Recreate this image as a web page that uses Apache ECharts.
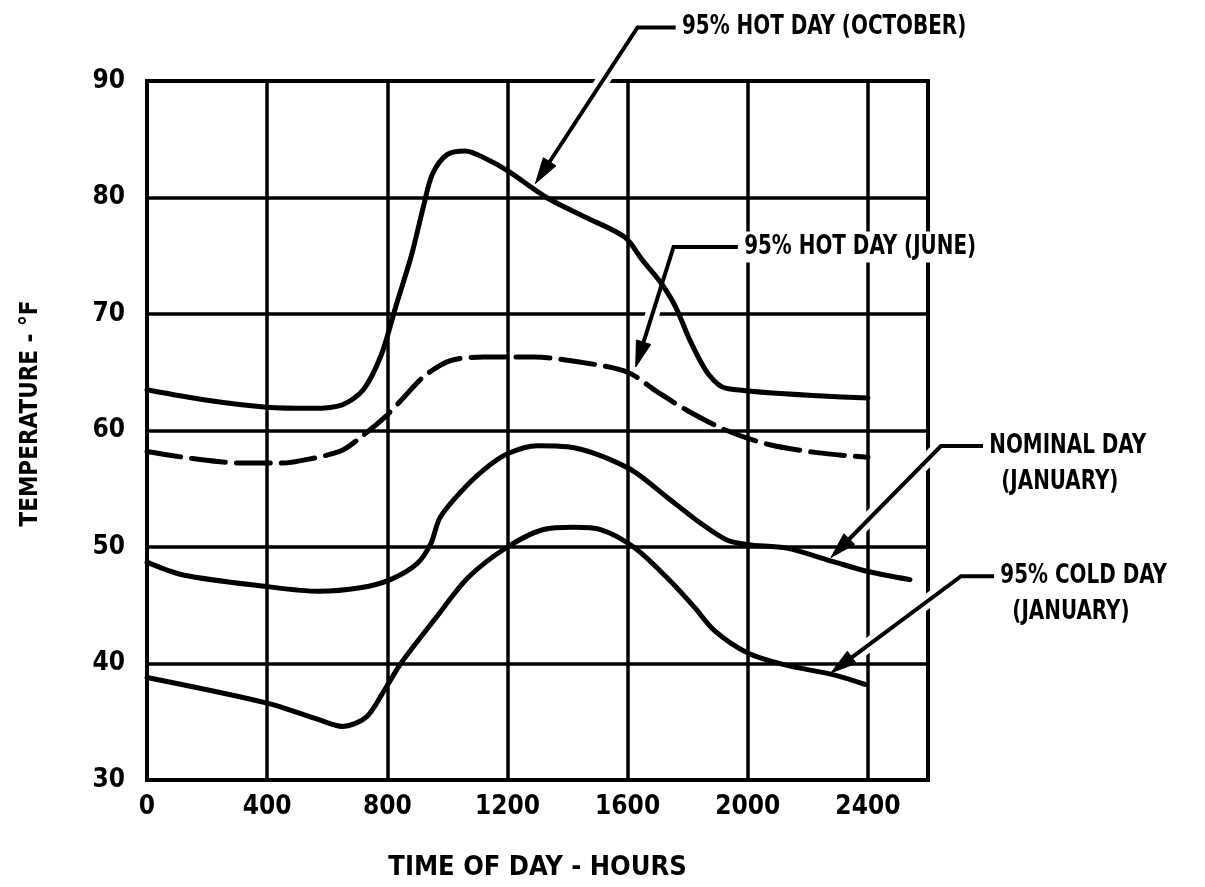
<!DOCTYPE html>
<html><head><meta charset="utf-8">
<script src="https://cdn.jsdelivr.net/npm/echarts@6/dist/echarts.min.js"></script>
<style>html,body{margin:0;padding:0;background:#fff}#c{width:1205px;height:887px}</style>
</head><body><div id="c"></div>
<script>
// ---- data ----
const octX = [0, 200, 400, 550, 650, 720, 780, 830, 880, 920, 950, 1000, 1060, 1130, 1200, 1330, 1460, 1590, 1650, 1710, 1760, 1810, 1870, 1930, 2400];
const octY = [63.5, 62.6, 62.0, 61.9, 62.2, 63.5, 66.5, 70.8, 75.0, 79.2, 82.0, 83.7, 84.0, 83.3, 82.3, 80.0, 78.3, 76.6, 74.6, 72.7, 70.6, 67.6, 64.8, 63.6, 62.8];
const junX = [0, 150, 320, 450, 550, 650, 720, 790, 850, 920, 1010, 1120, 1290, 1460, 1600, 1700, 1800, 1930, 2070, 2230, 2400];
const junY = [58.2, 57.6, 57.2, 57.2, 57.6, 58.3, 59.6, 61.1, 62.7, 64.6, 66.0, 66.3, 66.3, 65.8, 65.0, 63.3, 61.7, 60.0, 58.8, 58.1, 57.7];
const nomX = [0, 120, 400, 570, 710, 810, 900, 945, 975, 1040, 1120, 1200, 1300, 1400, 1600, 1730, 1840, 1930, 2000, 2130, 2290, 2400, 2540];
const nomY = [48.7, 47.6, 46.6, 46.2, 46.5, 47.2, 48.6, 50.3, 52.5, 54.6, 56.6, 58.0, 58.7, 58.6, 56.8, 54.3, 52.1, 50.6, 50.2, 49.9, 48.7, 47.9, 47.2];
const colX = [0, 400, 570, 650, 730, 790, 845, 955, 1070, 1200, 1320, 1420, 1510, 1620, 1730, 1820, 1890, 2000, 2120, 2290, 2390];
const colY = [38.8, 36.6, 35.2, 34.6, 35.4, 37.7, 40.0, 43.7, 47.4, 50.0, 51.5, 51.7, 51.5, 50.0, 47.4, 44.9, 42.8, 40.9, 39.9, 39.0, 38.2];
const xTickLabels = ['0', '400', '800', '1200', '1600', '2000', '2400'];
const yTickLabels = ['30', '40', '50', '60', '70', '80', '90'];
const xName = 'TIME OF DAY - HOURS';
const yName = 'TEMPERATURE - °F';
// annotations (data coordinates): arrow tip, elbow, leader end; label lines
const annoLines = [['95% HOT DAY (OCTOBER)'], ['95% HOT DAY (JUNE)'], ['NOMINAL DAY', '(JANUARY)'], ['95% COLD DAY', '(JANUARY)']];
const annoTip = [[1293, 81.2], [1627, 65.45], [2277, 49.1], [2277, 39.2]];
const annoElbow = [[1633, 94.6], [1753, 75.75], [2643, 58.67], [2710, 47.5]];
const annoEnd = [[1760, 94.6], [1967, 75.75], [2783, 58.67], [2820, 47.5]];

const FONT = "'Liberation Sans Narrow', 'DejaVu Sans Condensed', sans-serif";
const zip = (xs, ys) => xs.map((x, i) => [x, ys[i]]);

const chart = echarts.init(document.getElementById('c'), null, {renderer: 'canvas'});
function mkSeries(name, xs, ys, dashed) {
  return {
    name, type: 'line', data: zip(xs, ys), showSymbol: false, symbol: 'none',
    smooth: 0.3, clip: false, z: 3,
    lineStyle: {color: '#000', width: 5, type: dashed ? [34, 11] : 'solid', cap: 'round', join: 'round'}
  };
}
chart.setOption({
  animation: false,
  backgroundColor: '#fff',
  grid: {left: 147, top: 81, width: 781, height: 699, show: true, borderColor: '#000', borderWidth: 4, containLabel: false},
  xAxis: {
    type: 'value', min: 0, max: 2600, interval: 400,
    axisLine: {show: false}, axisTick: {show: false},
    splitLine: {show: true, lineStyle: {color: '#000', width: 3.5}},
    axisLabel: {
      margin: 14, color: '#000', fontFamily: FONT, fontWeight: 'bold', fontSize: 26,
      formatter: v => { const i = Math.round(v / 400); return (v % 400 === 0 && i < xTickLabels.length) ? xTickLabels[i] : ''; }
    },
    name: xName, nameLocation: 'middle', nameGap: 74,
    nameTextStyle: {color: '#000', fontFamily: FONT, fontWeight: 'bold', fontSize: 27}
  },
  yAxis: {
    type: 'value', min: 30, max: 90, interval: 10,
    axisLine: {show: false}, axisTick: {show: false},
    splitLine: {show: true, lineStyle: {color: '#000', width: 3.5}},
    axisLabel: {
      margin: 22, color: '#000', fontFamily: FONT, fontWeight: 'bold', fontSize: 26,
      formatter: v => yTickLabels[Math.round((v - 30) / 10)]
    },
    name: yName, nameLocation: 'middle', nameGap: 104, nameRotate: 90,
    nameTextStyle: {color: '#000', fontFamily: FONT, fontWeight: 'bold', fontSize: 24, padding: [0, 0, 0, 34]}
  },
  series: [
    mkSeries('95% HOT DAY (OCTOBER)', octX, octY, false),
    mkSeries('95% HOT DAY (JUNE)', junX, junY, true),
    mkSeries('NOMINAL DAY (JANUARY)', nomX, nomY, false),
    mkSeries('95% COLD DAY (JANUARY)', colX, colY, false)
  ]
});

function buildGraphics() {
  const g = [];
  annoLines.forEach((lines, k) => {
    const T = chart.convertToPixel({gridIndex: 0}, annoTip[k]);
    const E = chart.convertToPixel({gridIndex: 0}, annoElbow[k]);
    const S = chart.convertToPixel({gridIndex: 0}, annoEnd[k]);
    const dx = T[0] - E[0], dy = T[1] - E[1];
    const len = Math.hypot(dx, dy);
    const ux = dx / len, uy = dy / len;
    const L = 26, W = 15;
    const B = [T[0] - ux * L, T[1] - uy * L];
    const nx = -uy, ny = ux;
    g.push({type: 'polyline', z: 1, silent: true,
      shape: {points: [S, E, B]}, style: {stroke: '#fff', lineWidth: 14, fill: null}});
    g.push({type: 'polyline', z: 5, silent: true,
      shape: {points: [S, E, B]}, style: {stroke: '#000', lineWidth: 4, fill: null, lineJoin: 'miter'}});
    g.push({type: 'polygon', z: 5, silent: true,
      shape: {points: [T, [B[0] + nx * W / 2, B[1] + ny * W / 2], [B[0] - nx * W / 2, B[1] - ny * W / 2]]},
      style: {fill: '#000', stroke: '#000', lineWidth: 1}});
    lines.forEach((t, j) => {
      g.push({type: 'text', z: 4, silent: true,
        x: S[0] + 3 + (j > 0 ? 12 : 0), y: S[1] + j * 36, scaleX: 0.82, scaleY: 1,
        style: {text: t, fill: '#000', font: 'bold 27px ' + FONT, verticalAlign: 'middle', align: 'left',
          backgroundColor: '#fff', padding: [2, 4, 2, 4]}});
    });
  });
  return g;
}
chart.setOption({graphic: buildGraphics()});
</script></body></html>
